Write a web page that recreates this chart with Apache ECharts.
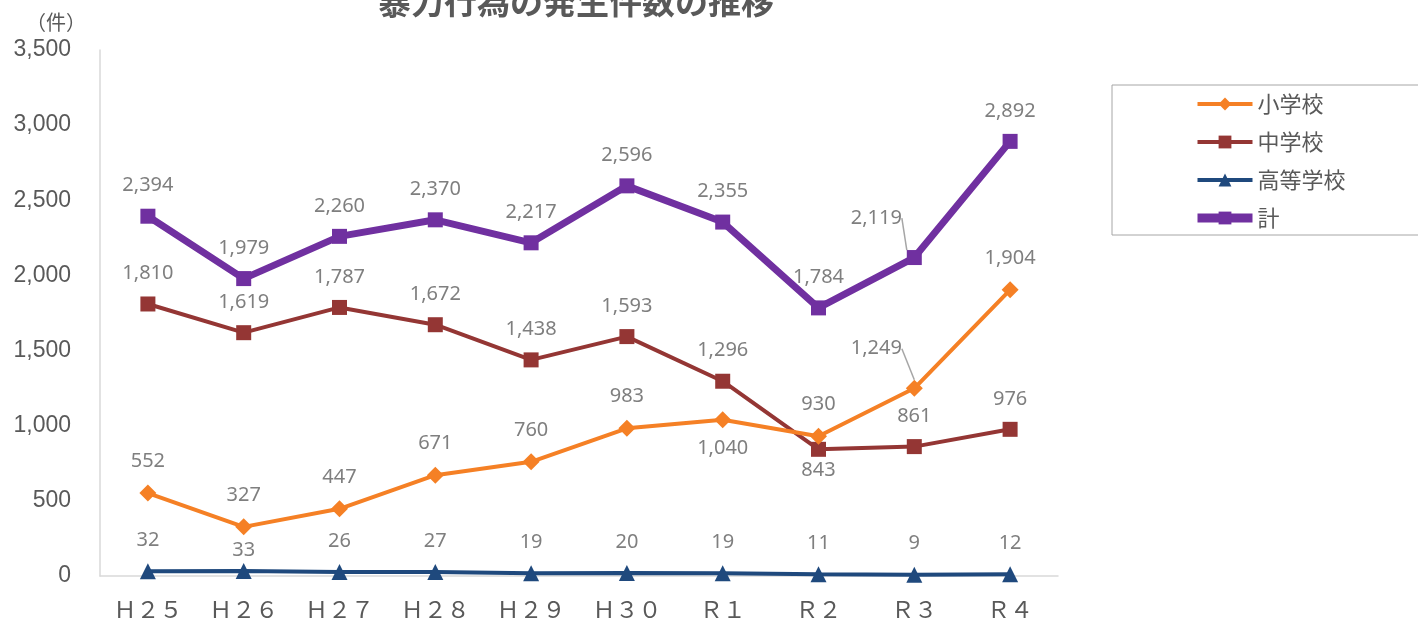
<!DOCTYPE html>
<html>
<head>
<meta charset="utf-8">
<script src="https://cdn.jsdelivr.net/npm/echarts@6/dist/echarts.min.js"></script>
<style>
  html, body { margin: 0; padding: 0; background: #fff; }
  #chart1 { width: 1418px; height: 622px; }
</style>
</head>
<body>
<div id="chart1"></div>
<script>
// 年度
var years = ['Ｈ２５', 'Ｈ２６', 'Ｈ２７', 'Ｈ２８', 'Ｈ２９', 'Ｈ３０', 'Ｒ１', 'Ｒ２', 'Ｒ３', 'Ｒ４'];
// 件数
var elementary = [552, 327, 447, 671, 760, 983, 1040, 930, 1249, 1904];
var juniorHigh = [1810, 1619, 1787, 1672, 1438, 1593, 1296, 843, 861, 976];
var highSchool = [32, 33, 26, 27, 19, 20, 19, 11, 9, 12];
var total = [2394, 1979, 2260, 2370, 2217, 2596, 2355, 1784, 2119, 2892];

var chart1 = echarts.init(document.getElementById('chart1'));
var labelFont = 'Noto Sans';
var textGray = '#595959';
var guide = { show: true, lineStyle: { color: '#a6a6a6', width: 1.5 } };

function fmt(p) {
    return p.value.toLocaleString('en-US');
}

// ラベルの位置を個別に変える
function withLabel(values, special) {
    return values.map(function (v, i) {
        if (special[i]) {
            var item = { value: v };
            for (var k in special[i]) item[k] = special[i][k];
            return item;
        }
        return v;
    });
}

function moved(dx, dy) {
    return function (params) {
        return params.dataIndex === 8 ? { dx: dx, dy: dy } : {};
    };
}

var baseLabel = {
    show: true,
    position: 'top',
    distance: 13,
    color: '#7f7f7f',
    fontFamily: labelFont,
    fontSize: 20,
    formatter: fmt
};

var option = {
    animation: false,
    title: {
        text: '暴力行為の発生件数の推移',
        left: 571,
        textAlign: 'center',
        top: -20,
        textStyle: {
            color: textGray,
            fontSize: 33,
            fontWeight: 'bold',
            fontFamily: 'Noto Sans CJK JP'
        }
    },
    legend: {
        left: 1112,
        top: 85,
        orient: 'vertical',
        padding: [8, 250, 6, 81],
        itemGap: 16,
        itemWidth: 55,
        itemHeight: 16,
        borderColor: '#a6a6a6',
        borderWidth: 1,
        textStyle: { color: textGray, fontSize: 22, fontFamily: 'Noto Sans CJK JP' },
        data: [
            { name: '小学校', lineStyle: { width: 4 } },
            { name: '中学校', lineStyle: { width: 4 } },
            { name: '高等学校', lineStyle: { width: 4 } },
            { name: '計', lineStyle: { width: 9 } }
        ]
    },
    grid: { left: 100, right: 360, top: 50, bottom: 46 },
    xAxis: {
        type: 'category',
        data: years,
        boundaryGap: true,
        axisLine: { lineStyle: { color: '#d9d9d9', width: 1.5 } },
        axisTick: { show: false },
        axisLabel: { color: textGray, fontSize: 23, margin: 22, fontFamily: 'Noto Sans CJK JP' }
    },
    yAxis: {
        type: 'value',
        name: '（件）',
        nameLocation: 'end',
        nameGap: 18,
        nameTextStyle: { color: textGray, fontSize: 20, fontFamily: 'Noto Sans CJK JP', align: 'right', padding: [0, 14, 0, 0] },
        min: 0,
        max: 3500,
        interval: 500,
        axisLine: { show: true, lineStyle: { color: '#d9d9d9', width: 1.5 } },
        axisTick: { show: false },
        splitLine: { show: false },
        axisLabel: {
            color: textGray, fontSize: 23, margin: 29, fontFamily: 'Liberation Sans',
            formatter: function (v) { return v.toLocaleString('en-US'); }
        }
    },
    series: [{
        name: '小学校',
        type: 'line',
        data: withLabel(elementary, {
            6: { label: { position: 'bottom', distance: 10 } },
            8: { labelLine: guide }
        }),
        symbol: 'diamond',
        symbolSize: 17,
        color: '#f58025',
        lineStyle: { width: 4 },
        label: baseLabel,
        labelLine: { show: false },
        labelLayout: moved(-38, -8),
        z: 3
    }, {
        name: '中学校',
        type: 'line',
        data: withLabel(juniorHigh, { 7: { label: { position: 'bottom', distance: 3 } } }),
        symbol: 'rect',
        symbolSize: 15,
        color: '#943634',
        lineStyle: { width: 4 },
        label: baseLabel,
        z: 2
    }, {
        name: '高等学校',
        type: 'line',
        data: withLabel(highSchool, { 1: { label: { offset: [0, 10] } } }),
        symbol: 'triangle',
        symbolSize: 16,
        color: '#1f497d',
        lineStyle: { width: 4 },
        label: baseLabel,
        z: 2
    }, {
        name: '計',
        type: 'line',
        data: withLabel(total, { 8: { labelLine: guide } }),
        symbol: 'rect',
        symbolSize: 15,
        color: '#7030a0',
        lineStyle: { width: 7 },
        label: baseLabel,
        labelLine: { show: false },
        labelLayout: moved(-38, -9),
        z: 4
    }]
};
chart1.setOption(option);
</script>
</body>
</html>
